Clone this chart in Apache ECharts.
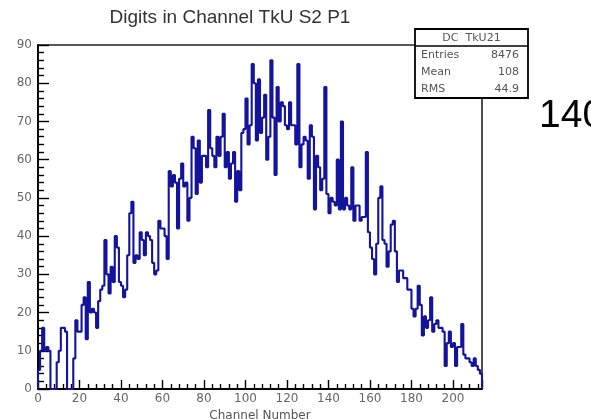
<!DOCTYPE html>
<html>
<head>
<meta charset="utf-8">
<script src="https://cdn.jsdelivr.net/npm/echarts@6/dist/echarts.min.js"></script>
<style>
html,body{margin:0;padding:0;background:#fff;}
#chart{width:591px;height:419px;}
</style>
</head>
<body>
<div id="chart"></div>
<script>
// ---- data ----
const chartTitle = 'Digits in Channel TkU S2 P1';
const xAxisTitle = 'Channel Number';
const binLow = 0;
const binWidth = 1;
const counts = [
  5, 10, 16, 10, 11, 10, 0, 0, 0, 7,
  10, 16, 16, 15, 0, 0, 0, 8, 18, 15,
  15, 22, 24, 13, 28, 20, 21, 20, 16, 23,
  26, 27, 39, 30, 25, 32, 28, 40, 37, 28,
  27, 24, 26, 35, 46, 49, 33, 35, 34, 41,
  39, 35, 41, 40, 39, 33, 30, 31, 44, 42,
  42, 40, 34, 57, 53, 56, 54, 42, 55, 59,
  53, 54, 44, 50, 66, 63, 51, 65, 54, 61,
  61, 58, 73, 63, 61, 58, 66, 61, 66, 72,
  58, 62, 55, 59, 62, 49, 57, 52, 67, 68,
  76, 64, 69, 85, 80, 65, 81, 67, 71, 77,
  60, 66, 86, 71, 56, 79, 70, 75, 74, 69,
  68, 75, 69, 69, 64, 85, 58, 64, 66, 65,
  55, 69, 66, 47, 61, 58, 52, 55, 79, 51,
  46, 50, 49, 48, 60, 47, 70, 47, 50, 48,
  47, 58, 44, 48, 48, 44, 45, 45, 62, 41,
  37, 34, 30, 38, 50, 53, 39, 38, 32, 36,
  43, 44, 36, 28, 31, 31, 29, 29, 26, 26,
  21, 19, 21, 27, 22, 14, 19, 16, 18, 24,
  15, 17, 18, 16, 16, 15, 6, 12, 15, 11,
  12, 6, 11, 11, 17, 9, 8, 8, 7, 6,
  8, 6, 5, 4
];
const xRange = [0, 214];
const yRange = [0, 90];
const xTickStep = 20;
const yTickStep = 10;
const statsTitle = 'DC  TkU21';
const statsLabels = ['Entries', 'Mean', 'RMS'];
const statsValues = ['8476', '108', '44.9'];
const sideNote = '140';

// ---- build histogram outline ----
const histData = [[binLow, 0]];
counts.forEach((c, i) => histData.push([binLow + i * binWidth, c]));
histData.push([binLow + counts.length * binWidth, 0]);

const chart = echarts.init(document.getElementById('chart'), null, {renderer: 'canvas'});

const gridL = 38, gridT = 45, gridR = 482, gridB = 389;
const labelFont = 'DejaVu Sans';

const statsX = 415, statsY = 29, statsW = 113, statsH = 69;
const statsGraphics = [
  {type: 'rect', z: 100, shape: {x: statsX, y: statsY, width: statsW, height: statsH},
   style: {fill: '#fff', stroke: '#000', lineWidth: 1.8}},
  {type: 'line', z: 101, shape: {x1: statsX, y1: 46, x2: statsX + statsW, y2: 46},
   style: {stroke: '#000', lineWidth: 1.4}},
  {type: 'text', z: 102, x: statsX + statsW / 2, y: 38,
   style: {text: statsTitle, fill: '#555', font: '11px "DejaVu Sans"', align: 'center', verticalAlign: 'middle'}}
];
statsLabels.forEach((lab, i) => {
  const yy = 55 + i * 17;
  statsGraphics.push({type: 'text', z: 102, x: 421, y: yy,
    style: {text: lab, fill: '#555', font: '11px "DejaVu Sans"', align: 'left', verticalAlign: 'middle'}});
  statsGraphics.push({type: 'text', z: 102, x: 519, y: yy,
    style: {text: statsValues[i], fill: '#555', font: '11px "DejaVu Sans"', align: 'right', verticalAlign: 'middle'}});
});

chart.setOption({
  animation: false,
  backgroundColor: '#fff',
  grid: {
    left: gridL, top: gridT, width: gridR - gridL, height: gridB - gridT,
    containLabel: false, outerBoundsMode: 'none',
    show: true, borderColor: '#222', borderWidth: 1.6, backgroundColor: 'transparent'
  },
  xAxis: {
    type: 'value', min: xRange[0], max: xRange[1], interval: xTickStep,
    name: xAxisTitle, nameLocation: 'middle', nameGap: 17,
    nameTextStyle: {fontFamily: labelFont, fontSize: 12, color: '#555'},
    axisLine: {show: true, lineStyle: {color: '#000', width: 1.8}},
    axisTick: {show: true, inside: true, length: 9, lineStyle: {color: '#000', width: 1.4}},
    minorTick: {show: true, splitNumber: 5, length: 5, lineStyle: {color: '#000', width: 1.4}},
    axisLabel: {show: true, showMaxLabel: false, margin: 4, fontFamily: labelFont, fontSize: 12, color: '#666'},
    splitLine: {show: false}
  },
  yAxis: {
    type: 'value', min: yRange[0], max: yRange[1], interval: yTickStep,
    axisLine: {show: true, lineStyle: {color: '#000', width: 1.8}},
    axisTick: {show: true, inside: true, length: 11, lineStyle: {color: '#000', width: 1.4}},
    minorTick: {show: true, splitNumber: 5, length: 6, lineStyle: {color: '#000', width: 1.4}},
    axisLabel: {show: true, margin: 6, fontFamily: labelFont, fontSize: 12, color: '#666'},
    splitLine: {show: false}
  },
  series: [{
    type: 'line',
    step: 'end',
    data: histData,
    showSymbol: false,
    symbol: 'none',
    lineStyle: {color: '#13139c', width: 2.1},
    z: 5
  }],
  graphic: [
    {type: 'text', x: 230, y: 18,
     style: {text: chartTitle, fill: '#333', font: '19px "Liberation Sans"', align: 'center', verticalAlign: 'middle'}},
    {type: 'text', x: 539, y: 97,
     style: {text: sideNote, fill: '#000', font: '39px "Liberation Sans"', align: 'left', verticalAlign: 'alphabetic'}}
  ].concat(statsGraphics)
});
</script>
</body>
</html>
